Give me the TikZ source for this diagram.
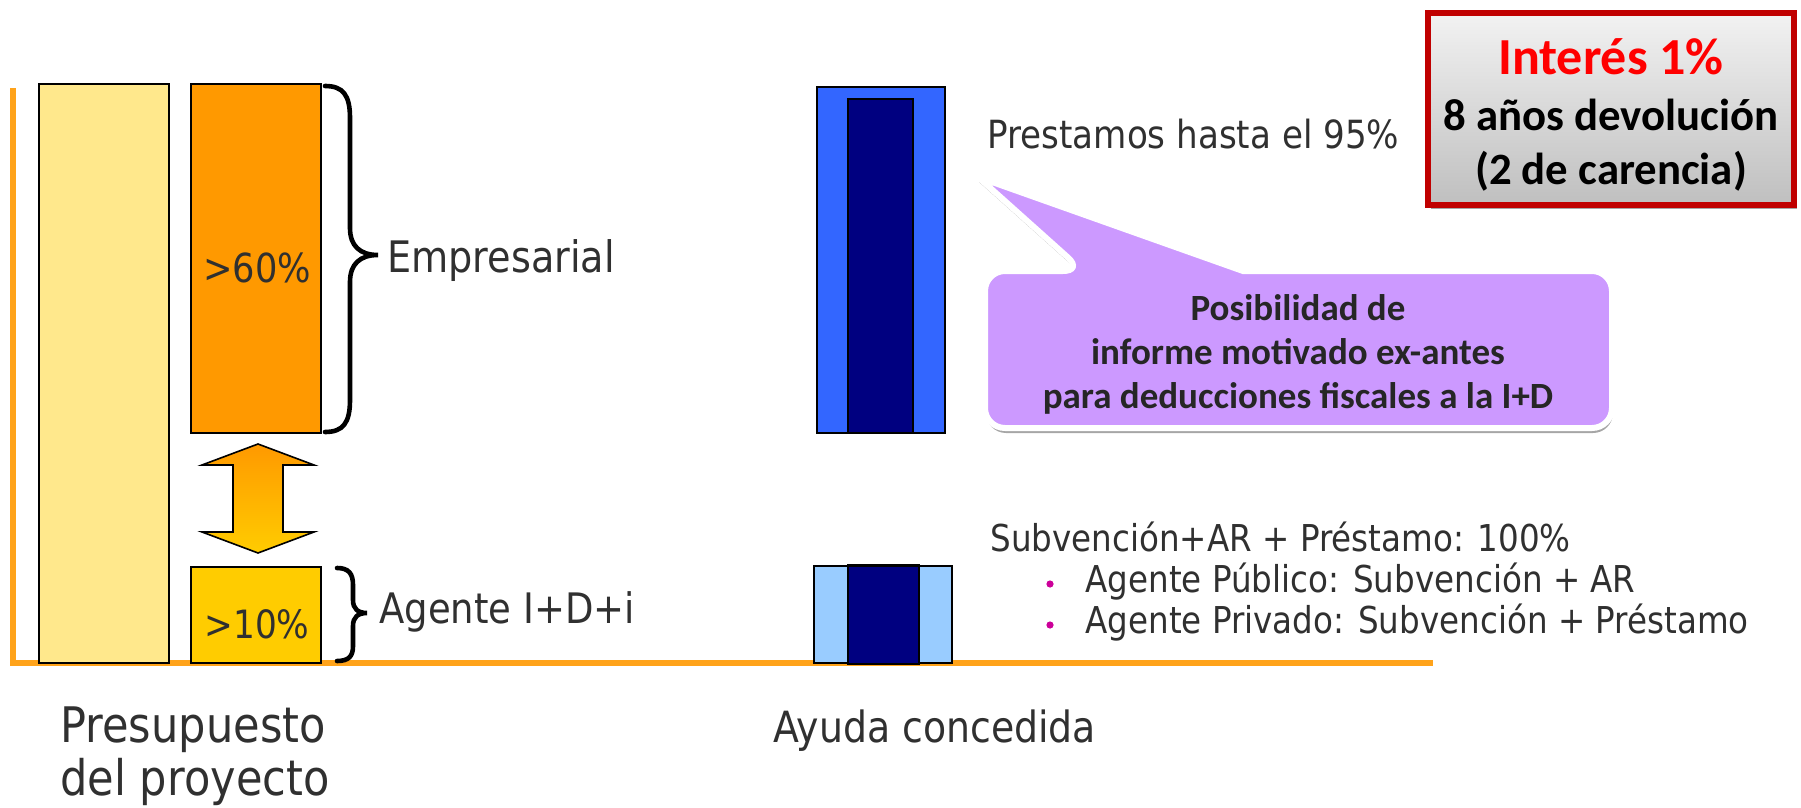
\documentclass[tikz,border=0pt]{standalone}
\usepackage{fontspec}
\usetikzlibrary{shadows}
\newfontfamily\comic[FakeStretch=0.88]{DejaVu Sans}
\newfontfamily\calib{Carlito}
\definecolor{budgety}{HTML}{FFE88C}
\definecolor{emporange}{HTML}{FF9900}
\definecolor{agtyellow}{HTML}{FFCC00}
\definecolor{axisor}{HTML}{FFA31A}
\definecolor{txtgray}{HTML}{303030}
\definecolor{bluebar}{HTML}{3366FF}
\definecolor{navybar}{HTML}{000080}
\definecolor{lightbluebar}{HTML}{99CCFF}
\definecolor{callpurple}{HTML}{CC99FF}
\definecolor{calltxt}{HTML}{262626}
\definecolor{redborder}{HTML}{C00000}
\definecolor{redtext}{HTML}{FF0000}
\definecolor{boxlight}{HTML}{F2F2F2}
\definecolor{boxdark}{HTML}{BFBFBF}
\definecolor{bulletmag}{HTML}{CC0099}
\tikzset{
  txt/.style={text=txtgray, inner sep=0pt},
  barbox/.style={draw=black, line width=0.9pt, inner sep=0pt},
  bracepath/.style={draw=black, line width=2.3pt, line cap=round},
  axisline/.style={draw=axisor, line width=3pt},
  bulletdot/.style={circle, fill=bulletmag, inner sep=0pt, minimum size=3.6pt},
  calloutshape/.style={fill=callpurple, draw=white, line width=3pt,
    drop shadow={shadow xshift=0.5pt, shadow yshift=-2.5pt, opacity=0.35, fill=black}},
  redbox/.style={draw=redborder, line width=3pt, top color=boxlight, bottom color=boxdark,
    minimum width=183pt, minimum height=96pt, inner sep=0pt, align=center,
    font=\calib\bfseries\fontsize{22.4}{27}\selectfont,
    drop shadow={shadow xshift=1.5pt, shadow yshift=-2pt, opacity=0.35, fill=black}},
}
\begin{document}
\begin{tikzpicture}[x=0.5pt,y=-0.5pt]
\useasboundingbox (0,0) rectangle (1801,808);

% axis
\coordinate (axtop) at (13,88);
\coordinate (axorig) at (13,663);
\coordinate (axend) at (1433,663);
\draw[axisline] (axtop) -- (axorig) -- (axend);

% budget bars
\node[barbox, fill=budgety, minimum width=65pt, minimum height=289.5pt] (budget) at (104,373.5) {};
\node[barbox, fill=emporange, minimum width=65pt, minimum height=174.5pt] (emp) at (256,258.5) {};
\node[barbox, fill=agtyellow, minimum width=65pt, minimum height=48pt] (agt) at (256,615) {};

% double arrow
\shadedraw[top color=emporange, bottom color=agtyellow, draw=black, line width=0.8pt]
  (258,444) -- (314,465) -- (283,465) -- (283,532) -- (314,532) -- (258,553)
  -- (202,532) -- (233,532) -- (233,465) -- (202,465) -- cycle;

% braces
\draw[bracepath] (325,86) .. controls (343,86) and (350,95) .. (350,118) -- (350,228)
  .. controls (350,246) and (360,255) .. (378,255)
  .. controls (360,255) and (350,264) .. (350,282) -- (350,400)
  .. controls (350,423) and (343,432) .. (325,432);
\draw[bracepath] (337,568) .. controls (349,568) and (353,574) .. (353,585) -- (353,600)
  .. controls (353,609) and (358,613) .. (367,613)
  .. controls (358,613) and (353,617) .. (353,626) -- (353,646)
  .. controls (353,656) and (349,661) .. (337,661);

% labels left
\node[txt, font=\comic\fontsize{20}{24}\selectfont, anchor=base] (p60) at (257,282) {>60\%};
\node[txt, font=\comic\fontsize{19.5}{24}\selectfont, anchor=base] (p10) at (257,638) {>10\%};
\node[txt, font=\comic\fontsize{21.7}{26}\selectfont, anchor=base west] (lemp) at (387,272) {Empresarial};
\node[txt, font=\comic\fontsize{21}{26}\selectfont, anchor=base west] (lagt) at (379,623) {Agente I+D+i};
\node[txt, font=\comic\fontsize{24.5}{26.5}\selectfont, align=left, anchor=north west] (lpres) at (60,706) {Presupuesto\\del proyecto};

% aid bars
\node[barbox, fill=bluebar, minimum width=64pt, minimum height=173pt] (bout) at (881,260) {};
\node[barbox, fill=navybar, minimum width=32.5pt, minimum height=167pt] (bin) at (880.5,266) {};
\node[barbox, fill=lightbluebar, minimum width=69pt, minimum height=48.5pt] (lbout) at (883,614.5) {};
\node[barbox, fill=navybar, minimum width=35.5pt, minimum height=49pt] (lbin) at (883.5,615) {};
\draw[line width=1.6pt] (lbin.north west) -- (lbin.north east);

\node[txt, font=\comic\fontsize{21.5}{24}\selectfont, anchor=base west] (layuda) at (773,742) {Ayuda concedida};

% right texts
\node[txt, font=\comic\fontsize{19.4}{24}\selectfont, anchor=base west] (lprest) at (987,149) {Prestamos hasta el 95\%};
\node[txt, font=\comic\fontsize{18.5}{22}\selectfont, anchor=base west] (lsub) at (990,551) {Subvención+AR + Préstamo: 100\%};
\node[bulletdot] (b1) at (1050,584) {};
\node[txt, font=\comic\fontsize{18.5}{22}\selectfont, anchor=base west] (lpub) at (1085,592) {Agente Público: Subvención + AR};
\node[bulletdot] (b2) at (1050,625) {};
\node[txt, font=\comic\fontsize{18.5}{22}\selectfont, anchor=base west] (lpriv) at (1085,633) {Agente Privado: Subvención + Préstamo};

% callout
\path[calloutshape] (1083,271) -- (978,177) -- (1243,271) [rounded corners=10pt] -- (1612,271)
  -- (1612,428) -- (985,428) -- (985,271) -- cycle;
\node[font=\calib\bfseries\fontsize{18.5}{22}\selectfont, text=calltxt, align=center, anchor=north, inner sep=0pt] (ctext) at (1298,294)
  {Posibilidad de\\informe motivado ex-antes\\para deducciones fiscales a la I+D};

% red box
\node[redbox] (terms) at (1611,109)
  {{\fontsize{26}{30}\selectfont\color{redtext}\rule{0pt}{24pt}Interés 1\%}\\[1pt]8 años devolución\\(2 de carencia)};
\end{tikzpicture}
\end{document}
